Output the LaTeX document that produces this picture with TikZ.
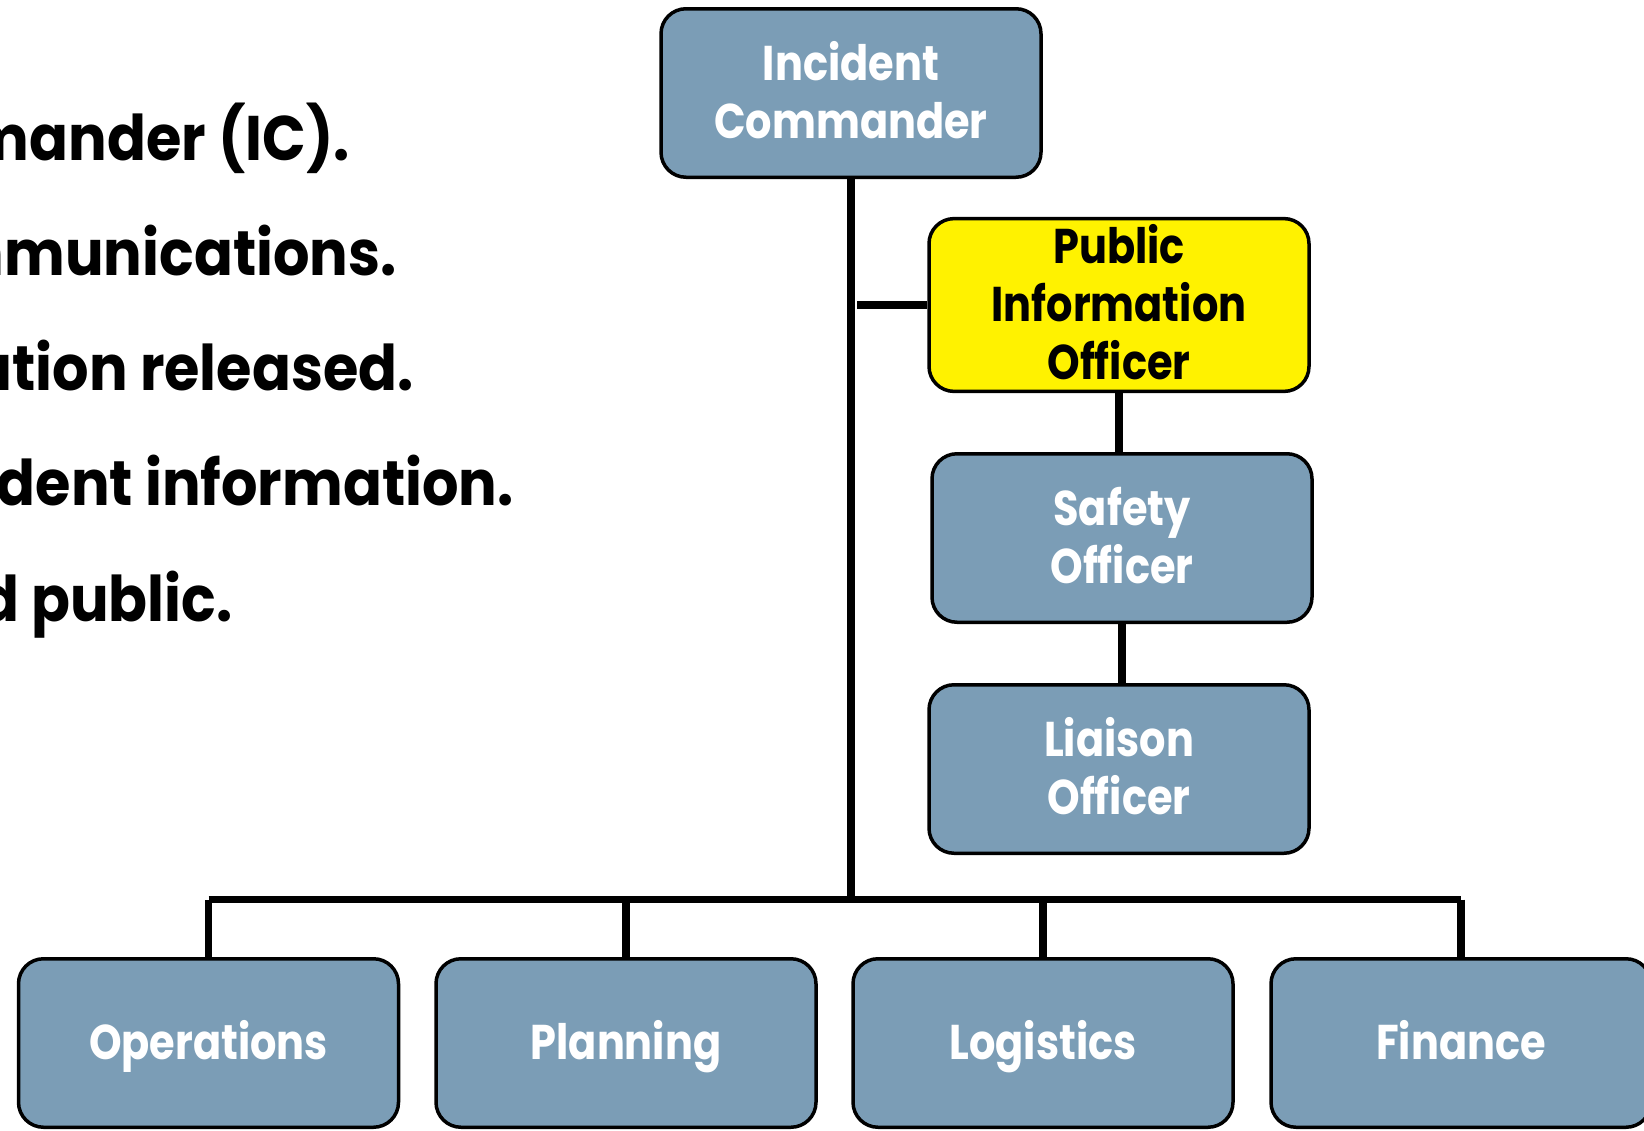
\documentclass[tikz,border=0pt]{standalone}
\usepackage{fontspec}
\setmainfont{Poppins}[FakeStretch=0.85]
\newfontfamily\leftfont{Poppins}[FakeStretch=0.91]
\definecolor{boxblue}{RGB}{123,157,182}
\newcommand\bxt[1]{\raisebox{-2.5pt}[\height][\depth]{\begin{tabular}{@{}c@{}}#1\end{tabular}}}
\begin{document}
\begin{tikzpicture}[x=0.5pt,y=-0.5pt,
  box/.style={draw=black, line width=1.75pt, rounded corners=12.5pt,
    minimum width=190pt, minimum height=84.25pt, fill=boxblue, text=white,
    align=center, inner sep=0pt,
    font=\bfseries\fontsize{24.4}{28.8}\selectfont},
  pubbox/.style={box, fill=yellow, text=black},
  conn/.style={line width=3.75pt},
  lefttext/.style={anchor=base east, inner sep=0pt,
    font=\leftfont\bfseries\fontsize{31.5}{35}\selectfont}]
\useasboundingbox (0,0) rectangle (1644,1130);

% left text (cut off at the page edge)
\node[lefttext] (t1) at (350,160) {mander (IC).};
\node[lefttext] (t2) at (397,275) {mmunications.};
\node[lefttext] (t3) at (414,390) {ation released.};
\node[lefttext] (t4) at (514,505) {dent information.};
\node[lefttext] (t5) at (233,621) {d public.};

% boxes
\node[box] (ic) at (851,93) {\bxt{Incident\\Commander}};
\node[pubbox] (pio) at (1119,305) {\bxt{Public\\Information\\Officer}};
\node[box] (saf) at (1122,538) {\bxt{Safety\\Officer}};
\node[box] (lia) at (1119,769) {\bxt{Liaison\\Officer}};
\node[box] (ops) at (208.5,1043) {\bxt{Operations}};
\node[box] (pla) at (626,1043) {\bxt{Planning}};
\node[box] (log) at (1043,1043) {\bxt{Logistics}};
\node[box] (fin) at (1461,1043) {\bxt{Finance}};

% connectors
\coordinate (bar) at (851,899.5);
\coordinate (pioj) at (857,305);
\draw[conn] (ic.south) -- (bar);
\draw[conn] (pioj) -- (pio.west);
\draw[conn] (pio.south) -- (pio.south |- saf.north);
\draw[conn] (saf.south) -- (saf.south |- lia.north);
\draw[conn] (ops.north |- bar) -- (fin.north |- bar);
\draw[conn] (ops.north |- bar) -- (ops.north);
\draw[conn] (pla.north |- bar) -- (pla.north);
\draw[conn] (log.north |- bar) -- (log.north);
\draw[conn] (fin.north |- bar) -- (fin.north);
\end{tikzpicture}
\end{document}
